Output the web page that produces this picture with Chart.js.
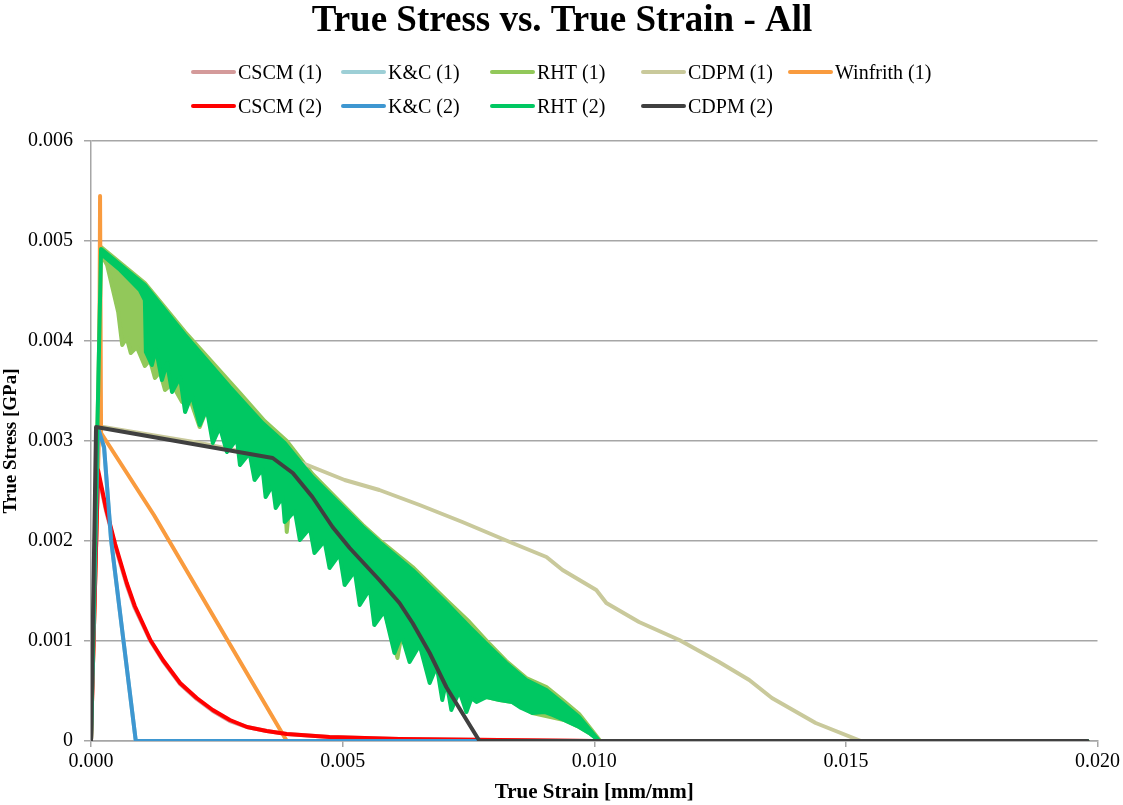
<!DOCTYPE html>
<html>
<head>
<meta charset="utf-8">
<title>True Stress vs. True Strain - All</title>
<script src="https://cdn.jsdelivr.net/npm/chart.js@4.4.1/dist/chart.umd.min.js"></script>
<style>
  html, body { margin: 0; padding: 0; background: #fff; }
</style>
</head>
<body>
<canvas id="stress-chart" width="1123" height="805"></canvas>
<script>
// 標題與刻度
const chartTitle = "True Stress vs. True Strain - All";
const xTitle = "True Strain [mm/mm]";
const yTitle = "True Stress [GPa]";
const xTicks = [0, 0.005, 0.01, 0.015, 0.02];
const xTickLabels = ["0.000", "0.005", "0.010", "0.015", "0.020"];
const yTicks = [0, 0.001, 0.002, 0.003, 0.004, 0.005, 0.006];
const yTickLabels = ["0", "0.001", "0.002", "0.003", "0.004", "0.005", "0.006"];

// CSCM
const cscmX = [0, 0.00014, 0.0003, 0.00048, 0.00058, 0.00071, 0.00087, 0.00118, 0.00143, 0.00177, 0.0021, 0.00242, 0.00276, 0.0031, 0.00349, 0.00389, 0.00474, 0.00613, 0.0081, 0.01, 0.0198];
const cscm1Y = [0, 0.00268, 0.0023, 0.00195, 0.00178, 0.00156, 0.00133, 0.001, 0.0008, 0.00057, 0.00042, 0.0003, 0.0002, 0.00014, 0.0001, 0.00007, 0.00004, 0.00002, 0.00001, 0, 0];
const cscm2Y = [0, 0.00271, 0.00232, 0.00197, 0.0018, 0.00158, 0.00135, 0.00101, 0.00081, 0.00058, 0.00043, 0.00031, 0.00021, 0.00014, 0.0001, 0.00007, 0.00004, 0.00002, 0.00001, 0, 0];

// K&C
const kcX = [0, 0.00014, 0.00026, 0.0004, 0.00089, 0.0198];
const kc1Y = [0, 0.0031, 0.00293, 0.002, 0, 0];
const kc2Y = [0, 0.00313, 0.00294, 0.00201, 0, 0];

// RHT (1) 上緣 / 下緣
const rht1UpperX = [0, 0.0002, 0.00107, 0.00187, 0.00296, 0.00345, 0.00389, 0.0044, 0.0054, 0.00573, 0.00639, 0.00706, 0.00752, 0.00792, 0.00825, 0.00865, 0.00905, 0.00937, 0.0097, 0.01012, 0.0198];
const rht1UpperY = [0, 0.00494, 0.00458, 0.00409, 0.00348, 0.0032, 0.003, 0.00267, 0.00216, 0.00201, 0.00174, 0.00141, 0.00119, 0.00097, 0.0008, 0.00063, 0.00054, 0.00041, 0.00027, 0, 0];
const rht1LowerX = [0.0002, 0.00032, 0.00054, 0.00062, 0.00071, 0.00079, 0.00091, 0.00107, 0.00117, 0.00127, 0.00137, 0.00147, 0.00161, 0.00181, 0.00196, 0.00216, 0.0023, 0.0027, 0.0029, 0.00315, 0.00341, 0.00367, 0.00385, 0.00389, 0.00395, 0.00415, 0.00444, 0.00474, 0.00504, 0.00534, 0.00563, 0.00583, 0.00609, 0.00617, 0.00653, 0.00687, 0.00706, 0.00732, 0.00756, 0.00786, 0.00812, 0.00837, 0.00877, 0.0094, 0.0097, 0.0099];
const rht1LowerY = [0.00487, 0.00476, 0.00429, 0.00396, 0.00403, 0.00388, 0.00394, 0.00375, 0.00381, 0.00363, 0.00369, 0.00351, 0.00357, 0.00339, 0.00343, 0.00314, 0.00332, 0.00314, 0.00302, 0.00288, 0.00272, 0.00256, 0.00244, 0.00209, 0.0024, 0.0023, 0.00213, 0.002, 0.00187, 0.0017, 0.00152, 0.0013, 0.00083, 0.00106, 0.00096, 0.00075, 0.0006, 0.0005, 0.00043, 0.00044, 0.00041, 0.00039, 0.00028, 0.00021, 0.00014, 0.00008];

// RHT (2) 上緣 / 下緣
const rht2UpperX = [0, 0.0002, 0.00107, 0.00187, 0.00276, 0.00341, 0.00385, 0.0044, 0.0054, 0.00573, 0.00639, 0.00706, 0.00752, 0.00792, 0.00825, 0.00865, 0.00905, 0.00937, 0.0097, 0.0101, 0.0198];
const rht2UpperY = [0, 0.00492, 0.00456, 0.00406, 0.00354, 0.00318, 0.00298, 0.00264, 0.00214, 0.00199, 0.00171, 0.00138, 0.00114, 0.00094, 0.00078, 0.00061, 0.00051, 0.00038, 0.00024, 0, 0];
const rht2LowerX = [0.0002, 0.00058, 0.00097, 0.00107, 0.00109, 0.00121, 0.00129, 0.00141, 0.00151, 0.00161, 0.00177, 0.00187, 0.002, 0.00216, 0.0023, 0.00242, 0.00256, 0.0027, 0.0029, 0.00296, 0.00315, 0.00325, 0.00341, 0.00347, 0.00361, 0.00367, 0.00381, 0.00385, 0.00405, 0.00415, 0.00435, 0.00444, 0.00464, 0.00474, 0.00494, 0.00504, 0.00524, 0.00534, 0.00554, 0.00563, 0.00583, 0.00603, 0.00617, 0.00633, 0.00653, 0.00673, 0.00687, 0.00698, 0.00706, 0.00716, 0.00732, 0.00746, 0.00756, 0.00766, 0.00786, 0.00812, 0.00837, 0.00855, 0.00877, 0.00901, 0.00917, 0.0094, 0.0097, 0.0099];
const rht2LowerY = [0.00487, 0.00471, 0.00451, 0.00441, 0.00389, 0.00376, 0.00392, 0.00361, 0.00378, 0.00349, 0.00364, 0.00329, 0.00346, 0.00316, 0.00332, 0.00298, 0.00314, 0.00289, 0.00302, 0.00276, 0.00288, 0.00261, 0.00272, 0.00244, 0.00256, 0.00233, 0.00244, 0.00219, 0.0023, 0.00201, 0.00213, 0.00188, 0.002, 0.00173, 0.00187, 0.00156, 0.0017, 0.00136, 0.00152, 0.00116, 0.0013, 0.00088, 0.00106, 0.00079, 0.00096, 0.00058, 0.00075, 0.00041, 0.0006, 0.00031, 0.0005, 0.00029, 0.00043, 0.00039, 0.00044, 0.00041, 0.00039, 0.00033, 0.00028, 0.00029, 0.00026, 0.00021, 0.00014, 0.00008];

// CDPM
const cdpm1X = [0, 0.00012, 0.00216, 0.00365, 0.00415, 0.00504, 0.00573, 0.00653, 0.00738, 0.00837, 0.00905, 0.00937, 0.01004, 0.01024, 0.01089, 0.01169, 0.01248, 0.01308, 0.01353, 0.0144, 0.0153, 0.0198];
const cdpm1Y = [0, 0.00315, 0.00298, 0.00283, 0.00279, 0.00261, 0.00251, 0.00236, 0.00219, 0.00198, 0.00184, 0.00171, 0.00151, 0.00138, 0.00119, 0.00101, 0.00079, 0.00061, 0.00043, 0.00018, 0, 0];
const cdpm2X = [0, 0.0001, 0.00361, 0.00401, 0.0044, 0.0048, 0.00514, 0.00573, 0.00613, 0.00639, 0.00673, 0.00706, 0.00772, 0.0198];
const cdpm2Y = [0, 0.00314, 0.00283, 0.00268, 0.00244, 0.00214, 0.00193, 0.00161, 0.00138, 0.00118, 0.00088, 0.00054, 0, 0];

// Winfrith
const winfrithX = [0, 0.00016, 0.00018, 0.0002, 0.00125, 0.00389, 0.0198];
const winfrithY = [0, 0.0031, 0.00545, 0.00308, 0.00226, 0, 0];

const serif = "'Liberation Serif', 'Times New Roman', serif";
const gridColor = "#a6a6a6";

const toPoints = (xs, ys) => xs.map((x, i) => ({ x, y: ys[i] }));
// 上緣走到右邊, 回到歸零點, 再沿下緣走回來, 圍成一個區塊
const toBand = (upX, upY, lowX, lowY) => {
  const pts = toPoints(upX, upY);
  pts.push({ ...pts[pts.length - 2] });
  for (let i = lowX.length - 1; i >= 0; i--) pts.push({ x: lowX[i], y: lowY[i] });
  return pts;
};

const series = [
  { label: "CSCM (1)", color: "#d49a9a", data: toPoints(cscmX, cscm1Y) },
  { label: "K&C (1)", color: "#9dcfd6", data: toPoints(kcX, kc1Y) },
  { label: "RHT (1)", color: "#92c85a", data: toBand(rht1UpperX, rht1UpperY, rht1LowerX, rht1LowerY), band: true },
  { label: "CDPM (1)", color: "#c9c99b", data: toPoints(cdpm1X, cdpm1Y) },
  { label: "Winfrith (1)", color: "#f99b3e", data: toPoints(winfrithX, winfrithY) },
  { label: "CSCM (2)", color: "#ff0000", data: toPoints(cscmX, cscm2Y) },
  { label: "K&C (2)", color: "#3e97d1", data: toPoints(kcX, kc2Y) },
  { label: "RHT (2)", color: "#00c862", data: toBand(rht2UpperX, rht2UpperY, rht2LowerX, rht2LowerY), band: true },
  { label: "CDPM (2)", color: "#404040", data: toPoints(cdpm2X, cdpm2Y) },
];

const datasets = series.map((s, i) => ({
  label: s.label,
  data: s.data,
  showLine: true,
  borderColor: s.color,
  backgroundColor: s.color,
  borderWidth: 4,
  borderJoinStyle: "round",
  borderCapStyle: "round",
  pointRadius: 0,
  fill: s.band ? "shape" : false,
  order: series.length - i, // 後面的系列畫在上面
}));

// 標題與圖例 (兩列, 欄位對齊)
const legendColumns = [193, 343, 492, 643, 790];
const legendRows = [72, 106];
const headerPlugin = {
  id: "header",
  afterDraw(chart) {
    const { ctx } = chart;
    ctx.save();
    ctx.fillStyle = "#000";
    ctx.font = `bold 37px ${serif}`;
    ctx.textAlign = "center";
    ctx.textBaseline = "alphabetic";
    ctx.fillText(chartTitle, 562, 31);
    ctx.font = `20px ${serif}`;
    ctx.textAlign = "left";
    chart.data.datasets.forEach((ds, i) => {
      const x = legendColumns[i < 5 ? i : i - 5];
      const y = legendRows[i < 5 ? 0 : 1];
      ctx.strokeStyle = ds.borderColor;
      ctx.lineWidth = 4;
      ctx.lineCap = "round";
      ctx.beginPath();
      ctx.moveTo(x, y);
      ctx.lineTo(x + 41, y);
      ctx.stroke();
      ctx.fillText(ds.label, x + 45, y + 6.5);
    });
    ctx.restore();
  },
};

new Chart(document.getElementById("stress-chart"), {
  type: "scatter",
  data: { datasets },
  options: {
    responsive: false,
    animation: false,
    layout: { padding: { top: 141, right: 24, left: 0, bottom: 0 } },
    plugins: {
      legend: { display: false },
      tooltip: { enabled: false },
    },
    scales: {
      x: {
        type: "linear",
        min: 0,
        max: 0.02,
        afterFit: (scale) => { scale.height = 64; },
        afterBuildTicks: (scale) => { scale.ticks = xTicks.map((v) => ({ value: v })); },
        ticks: {
          callback: (v, i) => xTickLabels[i],
          font: { family: serif, size: 20 },
          color: "#000",
          padding: 3,
          maxRotation: 0,
        },
        grid: { drawOnChartArea: false, tickLength: 6, color: gridColor, lineWidth: 1.5 },
        border: { color: gridColor, width: 1.5 },
        title: {
          display: true,
          text: xTitle,
          font: { family: serif, size: 21, weight: "bold" },
          color: "#000",
          padding: 0,
        },
      },
      y: {
        type: "linear",
        min: 0,
        max: 0.006,
        afterFit: (scale) => { scale.width = 91; },
        afterBuildTicks: (scale) => { scale.ticks = yTicks.map((v) => ({ value: v })); },
        ticks: {
          callback: (v, i) => yTickLabels[i],
          font: { family: serif, size: 20 },
          color: "#000",
          padding: 11,
        },
        grid: { color: gridColor, lineWidth: 1.5, tickLength: 7 },
        border: { color: gridColor, width: 1.5 },
        title: {
          display: true,
          text: yTitle,
          font: { family: serif, size: 19, weight: "bold" },
          color: "#000",
          padding: 0,
        },
      },
    },
  },
  plugins: [headerPlugin],
});
</script>
</body>
</html>
